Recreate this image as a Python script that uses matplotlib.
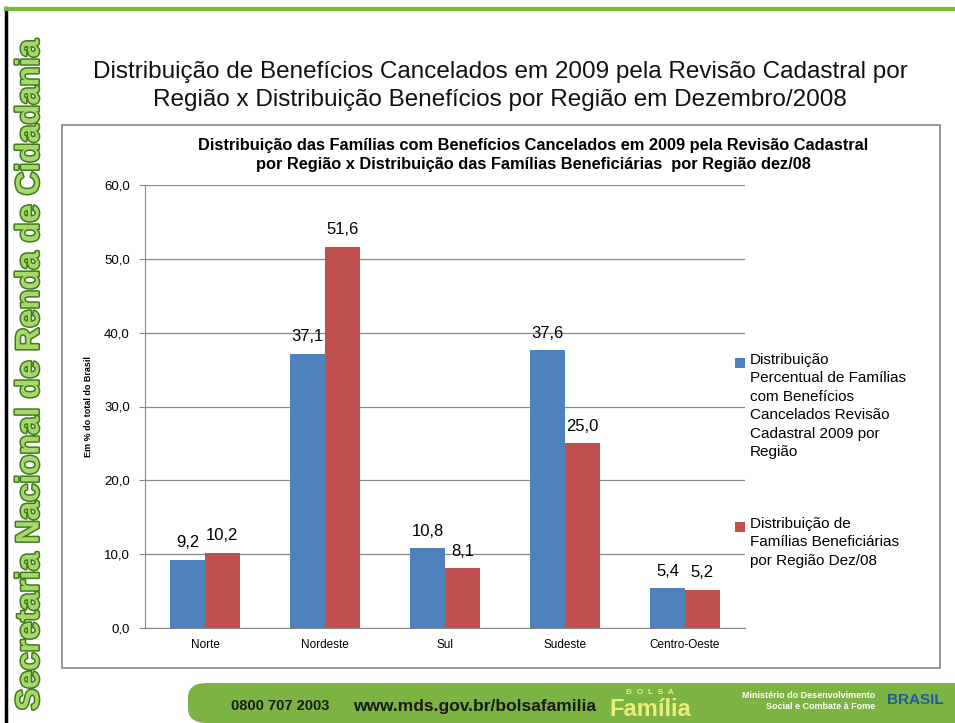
import matplotlib.pyplot as plt
import matplotlib.patheffects as pe
from matplotlib.patches import Rectangle, FancyBboxPatch
import numpy as np

regions = ['Norte', 'Nordeste', 'Sul', 'Sudeste', 'Centro-Oeste']
cancelados = [9.2, 37.1, 10.8, 37.6, 5.4]
beneficiarias = [10.2, 51.6, 8.1, 25.0, 5.2]
yticks = [0, 10, 20, 30, 40, 50, 60]

label_blue = ('Distribuição\nPercentual de Famílias\ncom Benefícios\n'
              'Cancelados Revisão\nCadastral 2009 por\nRegião')
label_red = 'Distribuição de\nFamílias Beneficiárias\npor Região Dez/08'

BLUE = '#4F81BD'
RED = '#C0504D'

plt.rcParams['font.family'] = ['Liberation Sans', 'DejaVu Sans']

fig = plt.figure(figsize=(9.55, 7.23), dpi=100)

def px(x, y):
    # pixel coords (top-left origin) -> figure fraction
    return x / 955, 1 - y / 723

# slide frame: black left line, green top line
fig.add_artist(plt.Line2D([6 / 955, 6 / 955], [0, 1 - 8 / 723], color='black', lw=2.5))
fig.add_artist(plt.Line2D([6 / 955, 1], [1 - 9 / 723, 1 - 9 / 723], color='#7DBA3C', lw=3))

# vertical department name
x, y = px(30, 375)
fig.text(x, y, 'Secretaria Nacional de Renda de Cidadania', rotation=90,
         ha='center', va='center', fontsize=23.5, fontweight='bold', color='#A6D86A',
         path_effects=[pe.withStroke(linewidth=2.2, foreground='#3F7A1E')])

# slide title
x, y = px(500, 86)
fig.text(x, y, 'Distribuição de Benefícios Cancelados em 2009 pela Revisão Cadastral por\n'
         'Região x Distribuição Benefícios por Região em Dezembro/2008',
         ha='center', va='center', fontsize=17.5, linespacing=1.35, color='#111111')

# chart border box
x0, y0 = px(62, 668)
fig.add_artist(Rectangle((x0, y0), 878 / 955, 543 / 723, transform=fig.transFigure,
                         facecolor='white', edgecolor='#888888', lw=1.2, zorder=0))

# chart title
x, y = px(533, 155)
fig.text(x, y, 'Distribuição das Famílias com Benefícios Cancelados em 2009 pela Revisão Cadastral\n'
         'por Região x Distribuição das Famílias Beneficiárias  por Região dez/08',
         ha='center', va='center', fontsize=11.8, fontweight='bold', linespacing=1.4)

l, b = px(145, 628)
ax = fig.add_axes([l, b, (745 - 145) / 955, (628 - 185) / 723])
xpos = np.arange(len(regions))
w = 0.29
b1 = ax.bar(xpos - w / 2, cancelados, w, color=BLUE, zorder=3)
b2 = ax.bar(xpos + w / 2, beneficiarias, w, color=RED, zorder=3)

for bars, vals in ((b1, cancelados), (b2, beneficiarias)):
    for rect, v in zip(bars, vals):
        ax.text(rect.get_x() + rect.get_width() / 2, v + 1.3, f'{v:.1f}'.replace('.', ','),
                ha='center', va='bottom', fontsize=12)

ax.set_xlim(-0.5, len(regions) - 0.5)
ax.set_ylim(0, 60)
ax.set_yticks(yticks)
ax.set_yticklabels([f'{t:.1f}'.replace('.', ',') for t in yticks], fontsize=9.5)
ax.set_xticks(xpos)
ax.set_xticklabels(regions, fontsize=8.5)
ax.yaxis.grid(True, color='#888888', lw=0.9, zorder=0)
for s in ['top', 'right']:
    ax.spines[s].set_visible(False)
ax.spines['left'].set_color('#888888')
ax.spines['bottom'].set_color('#888888')
ax.tick_params(axis='y', length=4, color='#888888', pad=7)
ax.tick_params(axis='x', length=0, pad=8)
ax.set_ylabel('Em % do total do Brasil', fontsize=6.5, fontweight='bold', labelpad=8)

# legend drawn by hand so the swatch sits on the first text line
for (ty, col, lab) in ((353, BLUE, label_blue), (517, RED, label_red)):
    x, y = px(735, ty + 15)
    fig.add_artist(Rectangle((x, y), 10 / 955, 10 / 723, transform=fig.transFigure,
                             facecolor=col, edgecolor='none'))
    x, y = px(750, ty)
    fig.text(x, y, lab, ha='left', va='top', fontsize=11, linespacing=1.4)

# footer banner
x0, y0 = px(188, 723)
fig.add_artist(FancyBboxPatch((x0, y0), 1 - x0 + 0.02, 40 / 723,
                              boxstyle='round,pad=0,rounding_size=0.02',
                              transform=fig.transFigure, facecolor='#7CB342',
                              edgecolor='none'))
x, y = px(280, 706)
fig.text(x, y, '0800 707 2003', ha='center', va='center', fontsize=10.5,
         fontweight='bold', color='#1a1a1a')
x, y = px(475, 706)
fig.text(x, y, 'www.mds.gov.br/bolsafamilia', ha='center', va='center', fontsize=12.5,
         fontweight='bold', color='#1a1a1a')
x, y = px(650, 710)
fig.text(x, y, 'Família', ha='center', va='center', fontsize=17, fontweight='bold',
         color='#E8F07A')
x, y = px(650, 692)
fig.text(x, y, 'B  O  L  S  A', ha='center', va='center', fontsize=6, fontweight='bold',
         color='#E8F07A')
x, y = px(875, 701)
fig.text(x, y, 'Ministério do Desenvolvimento\nSocial e Combate à Fome', ha='right',
         va='center', fontsize=6.5, fontweight='bold', color='white', linespacing=1.2)
x, y = px(915, 700)
fig.text(x, y, 'BRASIL', ha='center', va='center', fontsize=11, fontweight='bold',
         color='#1E5AA8')

fig.savefig('out.png', dpi=100)
